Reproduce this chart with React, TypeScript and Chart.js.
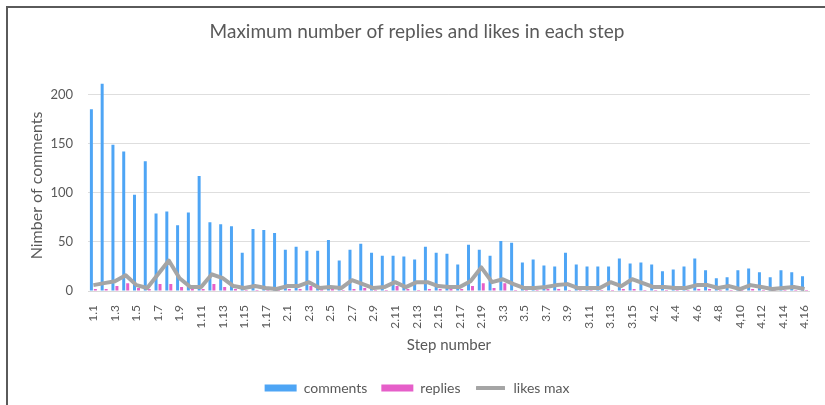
import React, { useEffect, useRef } from "react";
import { Chart, registerables } from "chart.js";

Chart.register(...registerables);

const steps: string[] = [
  "1.1", "1.2", "1.3", "1.4", "1.5", "1.6", "1.7", "1.8", "1.9", "1.10",
  "1.11", "1.12", "1.13", "1.14", "1.15", "1.16", "1.17", "1.18",
  "2.1", "2.2", "2.3", "2.4", "2.5", "2.6", "2.7", "2.8", "2.9", "2.10",
  "2.11", "2.12", "2.13", "2.14", "2.15", "2.16", "2.17", "2.18", "2.19",
  "3.2", "3.3", "3.4", "3.5", "3.6", "3.7", "3.8", "3.9", "3.10",
  "3.11", "3.12", "3.13", "3.14", "3.15",
  "4.1", "4.2", "4.3", "4.4", "4.5", "4.6", "4.7", "4.8", "4.9", "4,10",
  "4.11", "4.12", "4.13", "4.14", "4.15", "4.16",
];

const comments: number[] = [
  185, 211, 149, 142, 98, 132, 79, 81, 67, 80,
  117, 70, 68, 66, 39, 63, 62, 59,
  42, 45, 41, 41, 52, 31, 42, 48, 39, 36,
  36, 35, 32, 45, 39, 38, 27, 47, 42,
  36, 51, 49, 29, 32, 26, 25, 39, 27,
  25, 25, 25, 33, 28,
  29, 27, 20, 22, 25, 33, 21, 13, 14, 21,
  23, 19, 14, 21, 19, 15,
];

const replies: number[] = [
  2, 2, 5, 8, 3, 2, 7, 7, 4, 2,
  2, 7, 4, 2, 1, 1, 1, 1,
  2, 2, 5, 2, 2, 1, 2, 3, 1, 1,
  5, 2, 1, 2, 2, 2, 2, 5, 8,
  3, 8, 1, 1, 1, 2, 2, 1, 1,
  1, 1, 1, 2, 2,
  1, 1, 1, 1, 1, 2, 2, 1, 1, 1,
  2, 1, 1, 1, 1, 1,
];

const likesMax: number[] = [
  6, 8, 10, 16, 6, 3, 17, 31, 13, 4,
  4, 17, 13, 5, 3, 5, 3, 2,
  5, 5, 9, 3, 4, 3, 11, 7, 3, 4,
  9, 4, 9, 9, 5, 4, 4, 10, 24,
  9, 12, 7, 3, 3, 4, 6, 7, 3,
  3, 3, 9, 5, 12,
  8, 4, 4, 3, 3, 6, 6, 3, 5, 2,
  6, 4, 2, 3, 4, 2,
];

const yTicks: number[] = [0, 50, 100, 150, 200];

const FONT = "Lato, 'Open Sans', sans-serif";
const TEXT = "#595959";

export default function App() {
  const ref = useRef<HTMLCanvasElement | null>(null);

  useEffect(() => {
    if (!ref.current) return;
    const chart = new Chart(ref.current, {
      type: "bar",
      data: {
        labels: steps,
        datasets: [
          {
            label: "comments",
            data: comments,
            backgroundColor: "#4ea5f5",
            borderWidth: 0,
            categoryPercentage: 0.74,
            barPercentage: 0.75,
            order: 1,
          },
          {
            label: "replies",
            data: replies,
            backgroundColor: "#e65fc9",
            borderWidth: 0,
            categoryPercentage: 0.74,
            barPercentage: 0.75,
            order: 1,
          },
          {
            type: "line",
            label: "likes max",
            data: likesMax,
            borderColor: "#a5a5a5",
            backgroundColor: "#a5a5a5",
            borderWidth: 4,
            pointRadius: 0,
            tension: 0,
            borderJoinStyle: "round",
            order: 0,
          } as any,
        ],
      },
      options: {
        responsive: false,
        animation: false,
        maintainAspectRatio: false,
        layout: { padding: { left: 20, right: 11, top: 0, bottom: 0 } },
        font: { family: FONT },
        color: TEXT,
        plugins: {
          tooltip: { enabled: false },
          title: {
            display: true,
            text: "Maximum number of replies and likes in each step",
            color: TEXT,
            font: { family: FONT, size: 19, weight: "normal" },
            padding: { top: 20, bottom: 37 },
          },
          legend: {
            position: "bottom",
            labels: {
              color: TEXT,
              font: { family: FONT, size: 14 },
              boxWidth: 32,
              boxHeight: 7,
              padding: 14,
              sort: (a: any, b: any) => a.datasetIndex - b.datasetIndex,
              generateLabels: (c: any) => {
                const items = Chart.defaults.plugins.legend.labels.generateLabels(c);
                return items.map((it: any) => {
                  if (it.datasetIndex === 2) {
                    return { ...it, fillStyle: "#a5a5a5", strokeStyle: "#ffffff", lineWidth: 3, borderRadius: 2 };
                  }
                  return { ...it, lineWidth: 0 };
                });
              },
            },
          },
        },
        scales: {
          x: {
            grid: { display: false },
            border: { display: true, color: "#d9d9d9" },
            afterFit: (scale: any) => {
              scale.height = 76;
            },
            ticks: {
              autoSkip: false,
              maxRotation: 90,
              minRotation: 90,
              padding: 6,
              color: TEXT,
              font: { family: FONT, size: 12 },
              callback: function (this: any, val: any, index: number) {
                return index % 2 === 0 ? steps[index] : "";
              },
            },
            title: {
              display: true,
              text: "Step number",
              color: TEXT,
              font: { family: FONT, size: 15 },
              padding: { top: 12, bottom: 13 },
            },
          },
          y: {
            min: 0,
            max: 215,
            afterBuildTicks: (axis: any) => {
              axis.ticks = yTicks.map((v) => ({ value: v }));
            },
            afterFit: (scale: any) => {
              scale.width = 68;
            },
            grid: { color: "#dedede", drawTicks: false },
            border: { display: false },
            ticks: {
              padding: 15,
              color: TEXT,
              font: { family: FONT, size: 13 },
            },
            title: {
              display: true,
              text: "Nimber of comments",
              color: TEXT,
              font: { family: FONT, size: 16 },
              padding: { top: 7, bottom: 5 },
            },
          },
        },
      },
    });
    return () => chart.destroy();
  }, []);

  return (
    <div style={{ position: "fixed", left: 0, top: 0, width: 825, height: 405, overflow: "hidden", background: "#fff" }}>
      <canvas ref={ref} width={825} height={405} style={{ position: "absolute", left: 0, top: 0 }} />
      <div
        style={{
          position: "absolute",
          left: 6,
          top: 6,
          width: 840,
          height: 440,
          borderLeft: "2px solid #5a5a5a",
          borderTop: "2px solid #5a5a5a",
          zIndex: 10,
          pointerEvents: "none",
        }}
      />
    </div>
  );
}
